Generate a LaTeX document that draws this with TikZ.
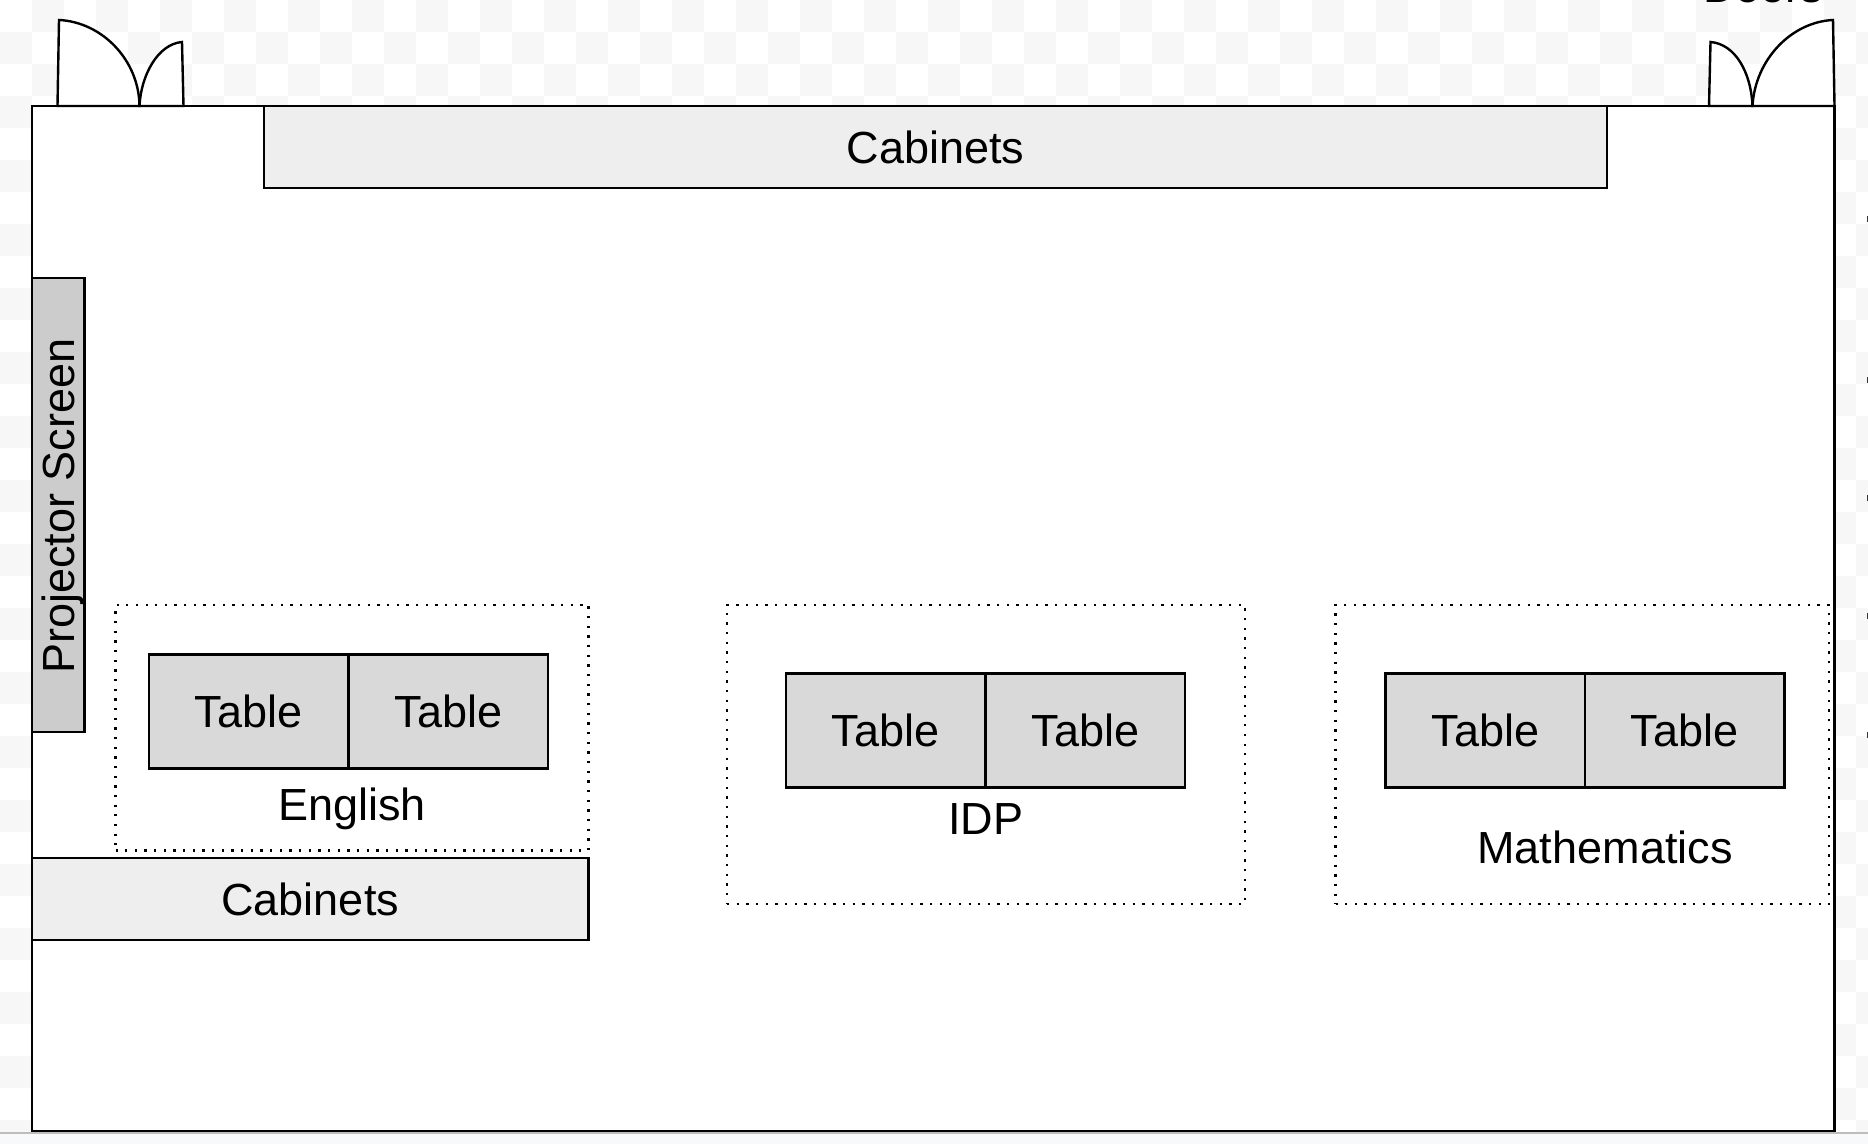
\documentclass[tikz,border=0pt]{standalone}
\usepackage{fontspec}
\setmainfont{Liberation Sans}
\usepackage{xcolor}
\definecolor{tile}{HTML}{F7F7F7}
\definecolor{strip}{HTML}{F8F9FA}
\definecolor{stripline}{HTML}{BDBDBD}
\definecolor{cabinet}{HTML}{EEEEEE}
\definecolor{screen}{HTML}{CCCCCC}
\definecolor{tablefill}{HTML}{D9D9D9}
\tikzset{
  wall/.style={draw=black, fill=white, line width=1.2pt},
  cabinetbox/.style={draw=black, fill=cabinet, line width=1.1pt, anchor=north west,
                     inner sep=0pt, outer sep=0pt},
  tablebox/.style={draw=black, fill=tablefill, line width=1.1pt, anchor=north west,
                   inner sep=0pt, outer sep=0pt, minimum width=99.75pt, minimum height=57pt,
                   text depth=0pt, yshift=-0.25pt},
  zone/.style={draw=black, line width=1.15pt, dash pattern=on 1.15pt off 3.68pt, anchor=north west,
               inner sep=0pt, outer sep=0pt},
  label/.style={inner sep=0pt, outer sep=0pt},
  every node/.style={font=\fontsize{22.5}{27}\selectfont}
}
\begin{document}
\begin{tikzpicture}[x=0.5pt,y=-0.5pt]
    \path[use as bounding box,clip] (0,0) rectangle (1868,1144);
    % checkered backdrop
    \foreach \i in {0,...,58} {
      \foreach \j in {0,...,35} {
        \pgfmathtruncatemacro{\odd}{mod(\i+\j,2)}
        \ifnum\odd=1
          \fill[tile] (32*\i,32*\j) rectangle (32*\i+32,32*\j+32);
        \fi
      }
    }
    \fill[strip] (0,1133) rectangle (1868,1144);
    \draw[stripline,line width=1pt] (0,1133) -- (1868,1133);
    \foreach \y in {219,380,498,616,735} {
      \fill[black!80] (1866.5,\y-3) rectangle (1868,\y+3);
    }
    % room
    \draw[wall] (32,106) rectangle (1834.5,1131);
    % doors
    \draw[wall] (57.5,106) -- (59,20) .. controls (102,22) and (139,60) .. (139.5,106) -- cycle;
    \draw[wall] (139.5,106) .. controls (141,75) and (158,44) .. (182,42) -- (183.5,106) -- cycle;
    \draw[wall] (1709,106) -- (1710.5,42) .. controls (1735,44) and (1751,72) .. (1752.5,106) -- cycle;
    \draw[wall] (1752.5,106) .. controls (1755,60) and (1791,22) .. (1833,20) -- (1834.5,106) -- cycle;
    \node[label,anchor=base] (doors) at (1763,2.5) {Doors};
    % furniture along the walls
    \node[cabinetbox,minimum width=671.5pt,minimum height=41pt] (cabinetstop) at (264,106) {Cabinets};
    \node[cabinetbox,minimum width=278.25pt,minimum height=41pt] (cabinetsleft) at (32,858) {Cabinets};
    \node[draw=black,fill=screen,line width=1.1pt,anchor=north west,inner sep=0pt,outer sep=0pt,
          minimum width=26.25pt,minimum height=227pt] (screenbox) at (32,278) {};
    \node[label,rotate=90] (screentext) at (63,506) {Projector Screen};
    % English
    \node[zone,minimum width=236.5pt,minimum height=122.75pt] (zoneenglish) at (115.5,605) {};
    \node[tablebox] (englisha) at (149,654) {Table};
    \node[tablebox] (englishb) at (348.5,654) {Table};
    \node[label] (english) at (352,809) {English};
    % IDP
    \node[zone,minimum width=259pt,minimum height=149.5pt] (zoneidp) at (727,605) {};
    \node[tablebox] (idpa) at (786,673) {Table};
    \node[tablebox] (idpb) at (985.5,673) {Table};
    \node[label] (idp) at (985.5,819) {IDP};
    % Mathematics
    \node[zone,minimum width=246.75pt,minimum height=149.5pt] (zonemath) at (1335.5,605) {};
    \node[tablebox] (matha) at (1385.5,673) {Table};
    \node[tablebox] (mathb) at (1585,673) {Table};
    \node[label] (math) at (1605,847) {Mathematics};
  \end{tikzpicture}
\end{document}
